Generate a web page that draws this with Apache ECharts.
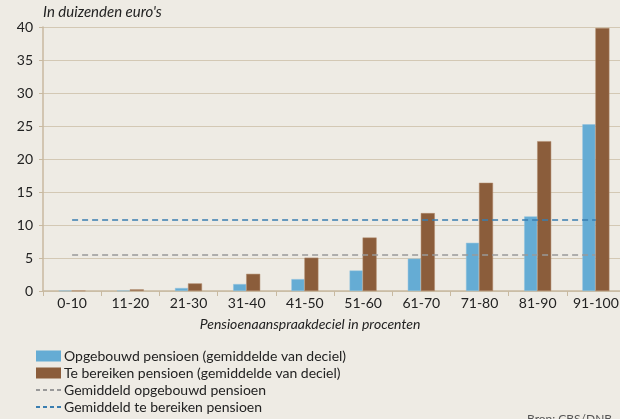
<!DOCTYPE html>
<html><head><meta charset="utf-8">
<script src="https://cdn.jsdelivr.net/npm/echarts@6/dist/echarts.min.js"></script>
<style>html,body{margin:0;padding:0;background:#eeebe4}#c{width:620px;height:419px}</style>
</head><body><div id="c"></div>
<script>
const categories = ['0-10','11-20','21-30','31-40','41-50','51-60','61-70','71-80','81-90','91-100'];
const opgebouwd = [0.05, 0.05, 0.45, 1.05, 1.8, 3.1, 4.9, 7.3, 11.3, 25.25];
const teBereiken = [0.05, 0.25, 1.15, 2.6, 5.05, 8.1, 11.8, 16.4, 22.7, 39.85];
const gemOpgebouwd = 5.45;
const gemTeBereiken = 10.75;
const yTicks = [0, 5, 10, 15, 20, 25, 30, 35, 40];

const font = 'Lato';
const chart = echarts.init(document.getElementById('c'));
chart.setOption({
  backgroundColor: '#eeebe4',
  animation: false,
  textStyle: { fontFamily: font },
  grid: { left: 43, right: -5, top: 27, bottom: 128, outerBoundsMode: 'none', containLabel: false },
  graphic: [
    { type: 'text', left: 43, top: 5, style: { text: "In duizenden euro's", font: 'italic 15px ' + font, fill: '#222' } },
    { type: 'text', left: 'center', top: 317, style: { text: 'Pensioenaanspraakdeciel in procenten', font: 'italic 14px ' + font, fill: '#222' } },
    { type: 'text', left: 527, top: 413, style: { text: 'Bron: CBS/DNB', font: '12px ' + font, fill: '#555' } }
  ],
  legend: {
    orient: 'vertical', left: 30, top: 344, height: 120, itemGap: 3, itemWidth: 25, itemHeight: 11,
    textStyle: { fontSize: 14, color: '#222', fontFamily: font, padding: [0,0,0,-2] },
    data: [
      { name: 'Opgebouwd pensioen (gemiddelde van deciel)', icon: 'rect', itemStyle: { borderWidth: 0 } },
      { name: 'Te bereiken pensioen (gemiddelde van deciel)', icon: 'rect', itemStyle: { borderWidth: 0 } },
      { name: 'Gemiddeld opgebouwd pensioen', itemStyle: { opacity: 0 } },
      { name: 'Gemiddeld te bereiken pensioen', itemStyle: { opacity: 0 } }
    ]
  },
  xAxis: {
    type: 'category', data: categories,
    axisLine: { lineStyle: { color: '#c8b9a0', width: 1.5 } },
    axisTick: { show: true, length: 5, lineStyle: { color: '#c8b9a0' } },
    axisLabel: { color: '#222', fontSize: 14, margin: 5, interval: 0 }
  },
  yAxis: {
    type: 'value', min: 0, max: 40, interval: 5,
    axisLine: { show: true, lineStyle: { color: '#c8b9a0', width: 1.5 } },
    axisTick: { show: true, length: 4, lineStyle: { color: '#c8b9a0' } },
    splitLine: { lineStyle: { color: '#d3c8b4', width: 1 } },
    axisLabel: { color: '#222', fontSize: 14, margin: 10, formatter: v => yTicks.includes(v) ? String(v) : '' }
  },
  series: [
    { name: 'Opgebouwd pensioen (gemiddelde van deciel)', type: 'bar', data: opgebouwd,
      barWidth: 13, barGap: '0%', itemStyle: { color: '#65acd4', borderColor: '#8fc1de', borderWidth: 0.5 } },
    { name: 'Te bereiken pensioen (gemiddelde van deciel)', type: 'bar', data: teBereiken,
      barWidth: 14, barGap: '0%', itemStyle: { color: '#8b5d3b', borderColor: '#b08a6c', borderWidth: 0.5 } },
    { name: 'Gemiddeld opgebouwd pensioen', type: 'line', data: [], symbol: 'none',
      lineStyle: { color: '#999', type: [4, 3], width: 1.2 }, itemStyle: { color: '#999' },
      markLine: { silent: true, symbol: 'none', label: { show: false },
        lineStyle: { color: '#999', type: [6, 4], width: 1.5 },
        data: [[{ xAxis: categories[0], yAxis: gemOpgebouwd }, { xAxis: categories[categories.length-1], yAxis: gemOpgebouwd }]] } },
    { name: 'Gemiddeld te bereiken pensioen', type: 'line', data: [], symbol: 'none',
      lineStyle: { color: '#3a7eb0', type: [4, 3], width: 1.2 }, itemStyle: { color: '#3a7eb0' },
      markLine: { silent: true, symbol: 'none', label: { show: false },
        lineStyle: { color: '#3a7eb0', type: [6, 4], width: 1.5 },
        data: [[{ xAxis: categories[0], yAxis: gemTeBereiken }, { xAxis: categories[categories.length-1], yAxis: gemTeBereiken }]] } }
  ]
});
</script></body></html>
